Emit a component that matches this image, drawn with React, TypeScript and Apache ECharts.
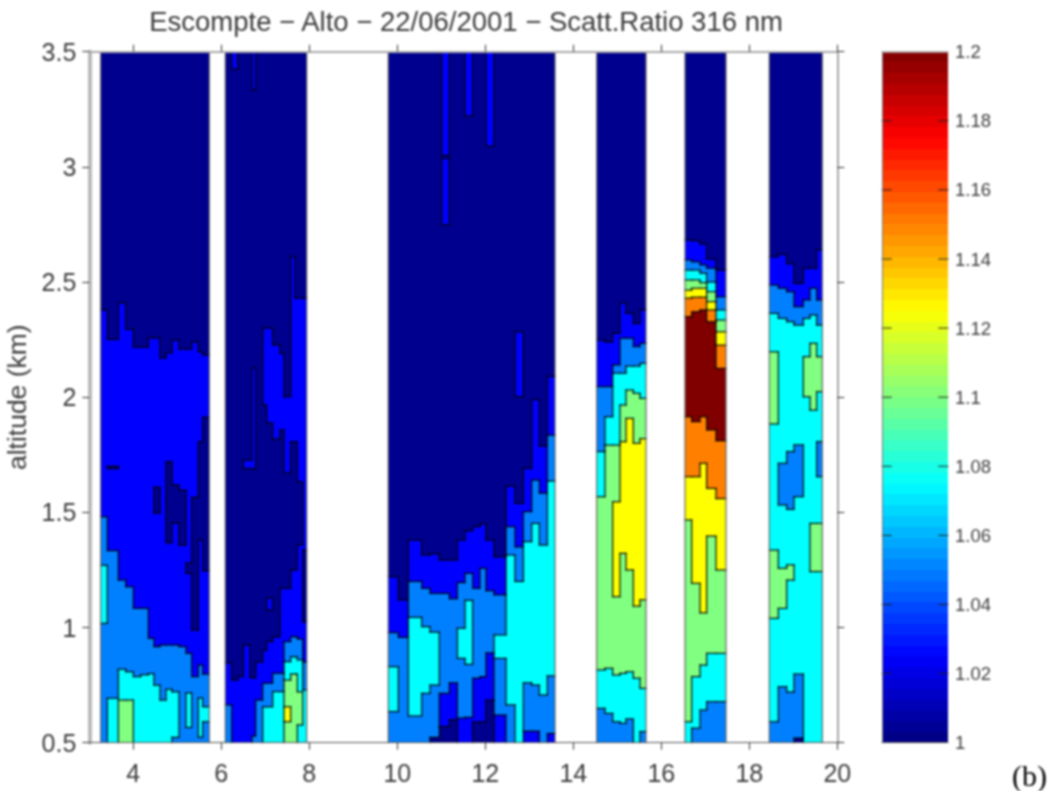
import React, { useEffect, useRef } from "react";
import * as echarts from "echarts";

const titleText = "Escompte − Alto − 22/06/2001 − Scatt.Ratio 316 nm";
const xTicks = [4, 6, 8, 10, 12, 14, 16, 18, 20];
const barTicks = [1.02, 1.04, 1.06, 1.08, 1.1, 1.12, 1.14, 1.16, 1.18];
const levelColors = ["#00008f", "#0000ff", "#0080ff", "#00ffff", "#80ff80", "#ffff00", "#ff8000", "#800000"];

// Each column lists, from the ground up: level, top altitude (km), level, top altitude, ..., last level.
const edgesA = [3.258, 3.41, 3.66, 3.827, 4.001, 4.167, 4.342, 4.47, 4.607, 4.743, 4.88, 5.039, 5.198, 5.327, 5.478, 5.577, 5.728];
const columnsA = [
  [2, 1.018, 3, 1.27, 2, 1.481, 1, 2.379, 0],
  [3, 0.693, 2, 1.334, 1, 1.69, 0, 1.7, 1, 2.251, 0],
  [4, 0.685, 3, 0.819, 2, 1.206, 1, 2.41, 0],
  [4, 0.685, 3, 0.808, 2, 1.177, 1, 2.295, 0],
  [3, 0.787, 2, 1.083, 1, 2.217, 0],
  [3, 0.795, 2, 1.083, 1, 2.217, 0],
  [3, 0.8, 2, 0.953, 1, 2.257, 0],
  [3, 0.75, 2, 0.917, 1, 1.497, 0, 1.609, 1, 2.257, 0],
  [3, 0.685, 2, 0.924, 1, 2.17, 0],
  [3, 0.732, 2, 0.924, 1, 1.368, 0, 1.72, 1, 2.193, 0],
  [2, 0.523, 3, 0.721, 2, 0.924, 1, 1.453, 0, 1.619, 1, 2.248, 0],
  [2, 0.917, 1, 1.358, 0, 1.597, 1, 2.209, 0],
  [2, 0.566, 3, 0.716, 2, 0.888, 1, 1.235, 0, 1.28, 1, 2.209, 0],
  [2, 0.787, 1, 0.989, 0, 1.565, 1, 2.24, 0],
  [2, 0.524, 3, 0.694, 2, 0.837, 1, 1.38, 0, 1.807, 1, 2.198, 0],
  [2, 0.591, 3, 0.656, 2, 0.798, 1, 1.247, 0, 1.913, 1, 2.183, 0],
];

const edgesB = [6.092, 6.236, 6.372, 6.501, 6.652, 6.698, 6.781, 6.94, 7.031, 7.167, 7.334, 7.425, 7.577, 7.675, 7.728, 7.849, 7.94];
const columnsB = [
  [2, 0.664, 1, 0.847, 0],
  [1, 0.772, 0, 3.424, 1],
  [1, 0.787, 0],
  [1, 0.924, 0, 1.69, 1, 1.727, 0],
  [1, 0.782, 0, 1.69, 1, 1.727, 0],
  [2, 0.529, 1, 0.782, 0, 1.69, 1, 2.127, 0, 3.334, 1],
  [2, 0.685, 1, 0.85, 0],
  [3, 0.656, 2, 0.758, 1, 0.902, 0, 1.966, 1, 2.3, 0],
  [3, 0.656, 2, 0.758, 1, 0.939, 0, 1.076, 1, 1.128, 0, 1.888, 1, 2.3, 0],
  [3, 0.722, 2, 0.801, 1, 0.96, 0, 1.818, 1, 2.227, 0],
  [3, 0.722, 2, 0.801, 1, 1.17, 0, 1.858, 1, 2.19, 0],
  [4, 0.591, 5, 0.656, 4, 0.772, 3, 0.852, 2, 0.939, 1, 1.17, 0, 1.671, 1, 2.002, 0],
  [4, 0.798, 3, 0.873, 2, 0.96, 1, 1.25, 0, 1.807, 1, 2.61, 0],
  [4, 0.798, 3, 0.873, 2, 0.96, 1, 1.25, 0, 1.807, 1, 2.43, 0],
  [3, 0.577, 4, 0.721, 3, 0.86, 2, 0.95, 1, 1.358, 0, 1.633, 1, 2.43, 0],
  [3, 0.729, 2, 0.85, 1, 1.025, 0, 1.337, 1, 2.43, 0],
];

const edgesC = [9.796, 10.024, 10.251, 10.554, 10.743, 10.955, 11.008, 11.183, 11.365, 11.539, 11.713, 11.88, 12.016, 12.198, 12.471, 12.675, 12.865, 13.054, 13.228, 13.41, 13.584];
const columnsC = [
  [2, 0.635, 3, 0.83, 2, 0.978, 1, 1.221, 0],
  [2, 0.957, 1, 1.12, 0],
  [2, 0.616, 3, 1.044, 2, 1.2, 1, 1.38, 0],
  [2, 0.714, 3, 1.004, 2, 1.17, 1, 1.315, 0],
  [0, 0.523, 2, 0.75, 3, 0.98, 2, 1.148, 1, 1.32, 0],
  [0, 0.57, 1, 0.714, 2, 1.148, 1, 1.293, 0],
  [0, 0.57, 1, 0.714, 2, 1.148, 1, 1.293, 0, 2.748, 1, 3.037, 0, 3.05, 1],
  [0, 0.6, 1, 0.76, 2, 1.125, 1, 1.293, 0],
  [1, 0.607, 2, 0.866, 3, 0.997, 2, 1.195, 1, 1.38, 0],
  [1, 0.61, 2, 0.84, 3, 1.118, 2, 1.235, 1, 1.42, 0, 3.221, 1],
  [0, 0.59, 1, 0.78, 2, 1.17, 1, 1.438, 0],
  [0, 0.59, 1, 0.787, 2, 1.257, 1, 1.45, 0],
  [0, 0.685, 1, 0.89, 2, 1.16, 1, 1.38, 0, 3.09, 1],
  [1, 0.62, 2, 0.866, 3, 0.968, 2, 1.142, 1, 1.307, 0],
  [2, 0.664, 3, 1.315, 2, 1.438, 1, 1.614, 0],
  [3, 1.2, 2, 1.35, 1, 1.539, 0, 2.002, 1, 2.284, 0],
  [1, 0.55, 2, 0.76, 3, 1.373, 2, 1.503, 1, 1.691, 0],
  [1, 0.55, 2, 0.75, 3, 1.452, 2, 1.64, 1, 1.99, 0],
  [2, 0.707, 3, 1.358, 2, 1.583, 1, 1.788, 0],
  [1, 0.54, 2, 0.79, 3, 1.636, 2, 1.835, 1, 2.09, 0],
];

const edgesD = [14.531, 14.72, 14.895, 15.061, 15.198, 15.364, 15.516, 15.652];
const columnsD = [
  [2, 0.649, 3, 0.816, 4, 1.568, 3, 1.764, 2, 2.046, 1, 2.248, 0],
  [2, 0.627, 3, 0.823, 4, 1.792, 3, 1.915, 2, 2.046, 1, 2.24, 0],
  [2, 0.591, 3, 0.794, 4, 1.134, 5, 1.546, 4, 1.792, 3, 2.104, 2, 2.14, 1, 2.277, 0],
  [2, 0.584, 3, 0.801, 4, 1.322, 5, 1.807, 4, 1.966, 3, 2.104, 2, 2.256, 1, 2.41, 0],
  [2, 0.603, 3, 0.808, 4, 1.25, 5, 1.908, 4, 2.031, 3, 2.135, 2, 2.256, 1, 2.364, 0],
  [3, 0.78, 4, 1.093, 5, 1.8, 4, 2.017, 3, 2.135, 2, 2.22, 1, 2.32, 0],
  [2, 0.548, 3, 0.736, 4, 1.12, 5, 1.82, 4, 1.995, 3, 2.147, 2, 2.234, 1, 2.379, 0],
];

const edgesE = [16.539, 16.69, 16.88, 17.031, 17.243, 17.47];
const columnsE = [
  [3, 0.591, 4, 1.467, 5, 1.655, 6, 1.915, 7, 2.35, 6, 2.43, 5, 2.465, 4, 2.509, 3, 2.552, 2, 2.596, 1, 2.683, 0],
  [2, 0.563, 3, 0.787, 4, 1.192, 5, 1.655, 6, 1.894, 7, 2.371, 6, 2.434, 5, 2.473, 4, 2.509, 3, 2.552, 2, 2.588, 1, 2.68, 0],
  [2, 0.642, 3, 0.837, 4, 1.064, 5, 1.713, 6, 1.915, 7, 2.379, 6, 2.434, 5, 2.473, 4, 2.497, 3, 2.538, 2, 2.574, 1, 2.665, 0],
  [2, 0.678, 3, 0.888, 4, 1.397, 5, 1.604, 6, 1.858, 7, 2.328, 6, 2.379, 5, 2.415, 4, 2.458, 3, 2.5, 2, 2.56, 1, 2.6, 0],
  [2, 0.678, 3, 0.888, 4, 1.25, 5, 1.56, 6, 1.811, 7, 2.125, 6, 2.226, 5, 2.284, 4, 2.335, 3, 2.379, 2, 2.436, 1, 2.552, 0],
];

const edgesF = [18.455, 18.66, 18.849, 19.016, 19.228, 19.38, 19.531, 19.66];
const columnsF = [
  [2, 0.591, 3, 1.04, 4, 1.336, 3, 1.884, 4, 2.197, 3, 2.364, 2, 2.487, 1, 2.61, 0],
  [2, 0.743, 3, 1.083, 4, 1.257, 3, 1.532, 2, 1.713, 3, 2.342, 2, 2.473, 1, 2.62, 0],
  [2, 0.72, 3, 1.206, 4, 1.272, 3, 1.513, 2, 1.764, 3, 2.328, 2, 2.458, 1, 2.58, 0],
  [0, 0.52, 2, 0.798, 3, 1.568, 2, 1.793, 3, 2.313, 2, 2.393, 1, 2.494, 0],
  [3, 2.002, 4, 2.176, 3, 2.342, 2, 2.422, 1, 2.56, 0],
  [3, 1.243, 4, 1.452, 3, 1.944, 4, 2.234, 3, 2.357, 2, 2.473, 1, 2.56, 0],
  [3, 1.243, 4, 1.452, 3, 1.655, 2, 1.807, 3, 2.024, 4, 2.176, 3, 2.313, 2, 2.422, 1, 2.64, 0],
];

const blocks: [number[], number[][]][] = [
  [edgesA, columnsA],
  [edgesB, columnsB],
  [edgesC, columnsC],
  [edgesD, columnsD],
  [edgesE, columnsE],
  [edgesF, columnsF],
];

const altMin = 0.5;
const altMax = 3.5;
const barMin = 1;
const barMax = 1.2;
const barSteps = 64;
const barTickShare = 0.14;

type Seg = [number, number, number];
function segmentsOf(col: number[]): Seg[] {
  const out: Seg[] = [];
  let lo = altMin;
  for (let i = 0; i < col.length; i += 2) {
    const hi = i + 1 < col.length ? col[i + 1] : altMax;
    out.push([lo, hi, col[i]]);
    lo = hi;
  }
  return out;
}
function levelAt(segs: Seg[], y: number) {
  for (const s of segs) if (y >= s[0] && y < s[1]) return s[2];
  return -1;
}

const cellRows: number[][] = [];
const contourRows: number[][] = [];
const sideRows: number[][] = [];
for (const [edges, cols] of blocks) {
  const allSegs = cols.map(segmentsOf);
  allSegs.forEach((segs, i) => {
    segs.forEach((s, k) => {
      cellRows.push([edges[i], edges[i + 1], s[0], s[1], s[2]]);
      if (k > 0) contourRows.push([edges[i], s[0], edges[i + 1], s[0]]);
    });
    if (i + 1 < allSegs.length) {
      const next = allSegs[i + 1];
      const cuts = Array.from(new Set([...segs.map((s) => s[0]), ...next.map((s) => s[0]), altMax])).sort((a, b) => a - b);
      for (let c = 0; c + 1 < cuts.length; c++) {
        const mid = (cuts[c] + cuts[c + 1]) / 2;
        if (levelAt(segs, mid) !== levelAt(next, mid)) {
          contourRows.push([edges[i + 1], cuts[c], edges[i + 1], cuts[c + 1]]);
        }
      }
    }
  });
  sideRows.push([edges[0], altMin, edges[0], altMax]);
  sideRows.push([edges[edges.length - 1], altMin, edges[edges.length - 1], altMax]);
}

function jet(v: number) {
  const c = (x: number) => Math.round(255 * Math.max(0, Math.min(1, x)));
  const r = c(Math.min(4 * v - 1.5, -4 * v + 4.5));
  const g = c(Math.min(4 * v - 0.5, -4 * v + 3.5));
  const b = c(Math.min(4 * v + 0.5, -4 * v + 2.5));
  return `rgb(${r},${g},${b})`;
}
const barRows: number[][] = [];
for (let i = 0; i < barSteps; i++) {
  const d = (barMax - barMin) / barSteps;
  barRows.push([0, 1, barMin + i * d, barMin + (i + 1) * d, i]);
}
const barTickRows: number[][] = [];
for (const t of barTicks) {
  barTickRows.push([0, t, barTickShare, t]);
  barTickRows.push([1 - barTickShare, t, 1, t]);
}

const FONT = "'Liberation Sans', Arial, sans-serif";
const TXT = "#3c3c3c";

const rectRenderer = (colorOf: (n: number) => string) => (_: any, api: any) => {
  const a = api.coord([api.value(0), api.value(3)]);
  const b = api.coord([api.value(1), api.value(2)]);
  const fill = colorOf(api.value(4));
  const x0 = Math.round(a[0]);
  const x1 = Math.round(b[0]);
  const y0 = Math.round(a[1]);
  const y1 = Math.round(b[1]);
  return {
    type: "rect",
    shape: { x: x0, y: y0, width: x1 - x0, height: y1 - y0 },
    style: { fill },
  };
};
const lineRenderer = (stroke: string, lineWidth: number) => (_: any, api: any) => {
  const a = api.coord([api.value(0), api.value(1)]);
  const b = api.coord([api.value(2), api.value(3)]);
  return {
    type: "line",
    shape: { x1: a[0], y1: a[1], x2: b[0], y2: b[1] },
    style: { stroke, lineWidth, lineCap: "square" },
  };
};

export default function App() {
  const ref = useRef<HTMLDivElement>(null);
  useEffect(() => {
    const chart = echarts.init(ref.current!, undefined, { renderer: "svg" });
    const tickStyle = { color: "#303030", width: 1 };
    chart.setOption({
      animation: false,
      backgroundColor: "#fff",
      title: {
        text: titleText,
        left: 466,
        top: 7,
        padding: 0,
        textAlign: "center",
        textStyle: { fontFamily: FONT, fontSize: 27.5, fontWeight: "normal", color: TXT },
      },
      grid: [
        { left: 89.3, top: 51.7, width: 748, height: 691, outerBoundsMode: "none", containLabel: false },
        { left: 882, top: 51.7, width: 66, height: 691, outerBoundsMode: "none", containLabel: false },
      ],
      xAxis: [
        {
          type: "value", gridIndex: 0, min: 3, max: 20, position: "bottom", z: 10,
          splitLine: { show: false },
          axisLine: { lineStyle: { color: "#555", width: 1 } },
          axisTick: { customValues: xTicks, length: 7, lineStyle: tickStyle },
          axisLabel: { customValues: xTicks, fontFamily: FONT, fontSize: 25, color: TXT, margin: 18 },
        },
        {
          type: "value", gridIndex: 0, min: 3, max: 20, position: "top", z: 10,
          splitLine: { show: false },
          axisLine: { lineStyle: { color: "#aaa", width: 2 } },
          axisTick: { customValues: xTicks, length: 7, lineStyle: tickStyle },
          axisLabel: { show: false },
        },
        {
          type: "value", gridIndex: 1, min: 0, max: 1, position: "bottom", z: 10,
          splitLine: { show: false },
          axisLine: { lineStyle: { color: "#555", width: 1 } },
          axisTick: { show: false }, axisLabel: { show: false },
        },
        {
          type: "value", gridIndex: 1, min: 0, max: 1, position: "top", z: 10,
          splitLine: { show: false },
          axisLine: { lineStyle: { color: "#aaa", width: 1.5 } },
          axisTick: { show: false }, axisLabel: { show: false },
        },
      ],
      yAxis: [
        {
          type: "value", gridIndex: 0, min: altMin, max: altMax, interval: 0.5, position: "left", z: 10,
          name: "altitude (km)", nameLocation: "middle", nameGap: 58, nameRotate: 90,
          nameTextStyle: { fontFamily: FONT, fontSize: 26.5, color: TXT },
          splitLine: { show: false },
          axisLine: { lineStyle: { color: "#b8b8b8", width: 4 } },
          axisTick: { length: 7, lineStyle: tickStyle },
          axisLabel: { fontFamily: FONT, fontSize: 25, color: TXT, margin: 13 },
        },
        {
          type: "value", gridIndex: 0, min: altMin, max: altMax, interval: 0.5, position: "right", z: 10,
          splitLine: { show: false },
          axisLine: { lineStyle: { color: "#888", width: 1.5 } },
          axisTick: { length: 7, lineStyle: tickStyle },
          axisLabel: { show: false },
        },
        {
          type: "value", gridIndex: 1, min: barMin, max: barMax, interval: 0.02, position: "right", z: 10,
          splitLine: { show: false },
          axisLine: { lineStyle: { color: "#777", width: 1 } },
          axisTick: { show: false },
          axisLabel: { fontFamily: FONT, fontSize: 18.5, color: TXT, margin: 7 },
        },
        {
          type: "value", gridIndex: 1, min: barMin, max: barMax, interval: 0.02, position: "left", z: 10,
          splitLine: { show: false },
          axisLine: { lineStyle: { color: "#777", width: 1 } },
          axisTick: { show: false },
          axisLabel: { show: false },
        },
      ],
      series: [
        {
          type: "custom", name: "cells", xAxisIndex: 0, yAxisIndex: 0, silent: true, z: 2,
          renderItem: rectRenderer((n) => levelColors[n]), data: cellRows,
        },
        {
          type: "custom", name: "contours", xAxisIndex: 0, yAxisIndex: 0, silent: true, z: 3,
          renderItem: lineRenderer("rgba(0,0,0,0.95)", 1.2), data: contourRows,
        },
        {
          type: "custom", name: "sides", xAxisIndex: 0, yAxisIndex: 0, silent: true, z: 3,
          renderItem: lineRenderer("rgba(90,90,90,0.9)", 1.2), data: sideRows,
        },
        {
          type: "custom", name: "colorbar", xAxisIndex: 2, yAxisIndex: 2, silent: true, z: 2,
          renderItem: rectRenderer((n) => jet((n + 0.5) / barSteps)), data: barRows,
        },
        {
          type: "custom", name: "colorbarTicks", xAxisIndex: 2, yAxisIndex: 2, silent: true, z: 3,
          renderItem: lineRenderer("#202020", 1), data: barTickRows,
        },
      ],
      graphic: [
        {
          type: "text", left: 1012, top: 760,
          style: { text: "(b)", fontFamily: "'Liberation Serif', serif", fontSize: 30, fill: "#000" },
        },
      ],
    });
    return () => chart.dispose();
  }, []);
  return (
    <div
      ref={ref}
      style={{ position: "absolute", left: 0, top: 0, width: 1056, height: 791, filter: "blur(0.8px)" }}
    />
  );
}
